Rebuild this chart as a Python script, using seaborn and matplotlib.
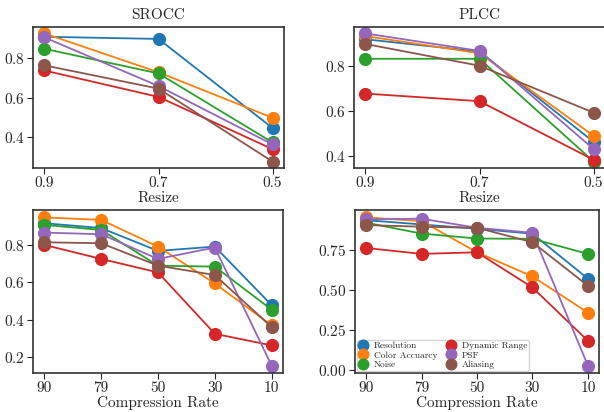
import pandas as pd
import matplotlib.pyplot as plt
import seaborn as sns

methods = ["Resolution", "Color Accuarcy", "Noise", "Dynamic Range", "PSF", "Aliasing"]

resize_levels = ["0.9", "0.7", "0.5"]
srocc_resize = {
    "Resolution": [0.908, 0.897, 0.445],
    "Color Accuarcy": [0.925, 0.728, 0.497],
    "Noise": [0.847, 0.722, 0.372],
    "Dynamic Range": [0.737, 0.603, 0.338],
    "PSF": [0.905, 0.658, 0.362],
    "Aliasing": [0.763, 0.645, 0.275],
}
plcc_resize = {
    "Resolution": [0.918, 0.863, 0.461],
    "Color Accuarcy": [0.932, 0.856, 0.488],
    "Noise": [0.831, 0.831, 0.373],
    "Dynamic Range": [0.676, 0.642, 0.381],
    "PSF": [0.944, 0.866, 0.429],
    "Aliasing": [0.897, 0.800, 0.591],
}

comp_levels = ["90", "79", "50", "30", "10"]
srocc_comp = {
    "Resolution": [0.916, 0.890, 0.768, 0.791, 0.478],
    "Color Accuarcy": [0.947, 0.934, 0.791, 0.594, 0.370],
    "Noise": [0.907, 0.880, 0.689, 0.684, 0.454],
    "Dynamic Range": [0.800, 0.725, 0.653, 0.325, 0.263],
    "PSF": [0.866, 0.857, 0.725, 0.786, 0.155],
    "Aliasing": [0.814, 0.809, 0.689, 0.639, 0.361],
}
plcc_comp = {
    "Resolution": [0.934, 0.907, 0.880, 0.849, 0.568],
    "Color Accuarcy": [0.951, 0.928, 0.733, 0.582, 0.356],
    "Noise": [0.918, 0.850, 0.819, 0.817, 0.723],
    "Dynamic Range": [0.760, 0.723, 0.733, 0.513, 0.180],
    "PSF": [0.939, 0.943, 0.886, 0.855, 0.025],
    "Aliasing": [0.903, 0.893, 0.886, 0.796, 0.524],
}


def to_long(levels, table):
    rows = []
    for m in methods:
        for lv, v in zip(levels, table[m]):
            rows.append({"level": lv, "score": v, "method": m})
    return pd.DataFrame(rows)


sns.set_style("ticks")
plt.rcParams["font.family"] = "serif"
plt.rcParams["font.serif"] = ["cmr10"]
plt.rcParams["axes.formatter.use_mathtext"] = True
plt.rcParams["axes.unicode_minus"] = False

fig = plt.figure(figsize=(6.04, 4.12), dpi=100)
W, H = 604, 412


def box(l, r, t, b):
    return [l / W, 1 - b / H, (r - l) / W, (b - t) / H]


panels = [
    (box(33, 284, 27, 168), resize_levels, srocc_resize, "SROCC", "Resize", False),
    (box(354, 605, 27, 168), resize_levels, plcc_resize, "PLCC", "Resize", False),
    (box(33, 283, 210, 373), comp_levels, srocc_comp, None, "Compression Rate", False),
    (box(355, 599, 210, 373), comp_levels, plcc_comp, None, "Compression Rate", True),
]

for pos, levels, table, title, xlabel, show_legend in panels:
    ax = fig.add_axes(pos)
    df = to_long(levels, table)
    sns.pointplot(
        data=df, x="level", y="score", hue="method", hue_order=methods,
        order=levels, palette="tab10", errorbar=None, markers="o",
        markersize=8.5, linewidth=1.3, ax=ax,
    )
    n = len(levels)
    pad = 0.05 * (n - 1)
    ax.set_xlim(-pad, n - 1 + pad)
    ax.margins(y=0.05)
    ax.set_xlabel(xlabel, fontsize=11, labelpad=1)
    ax.set_ylabel("")
    ax.tick_params(labelsize=11, length=4, pad=2)
    for s in ax.spines.values():
        s.set_linewidth(1.2)
        s.set_color("#333333")
    if title:
        ax.set_title(title, fontsize=11, pad=6)
    if show_legend:
        ax.legend(loc="lower left", ncol=2, fontsize=6.8, markerscale=0.9,
                  handlelength=0.8, handletextpad=0.8, columnspacing=1.0,
                  borderaxespad=0.2, labelspacing=0.1, borderpad=0.2)
    else:
        ax.get_legend().remove()

fig.savefig("out.png", dpi=100)
